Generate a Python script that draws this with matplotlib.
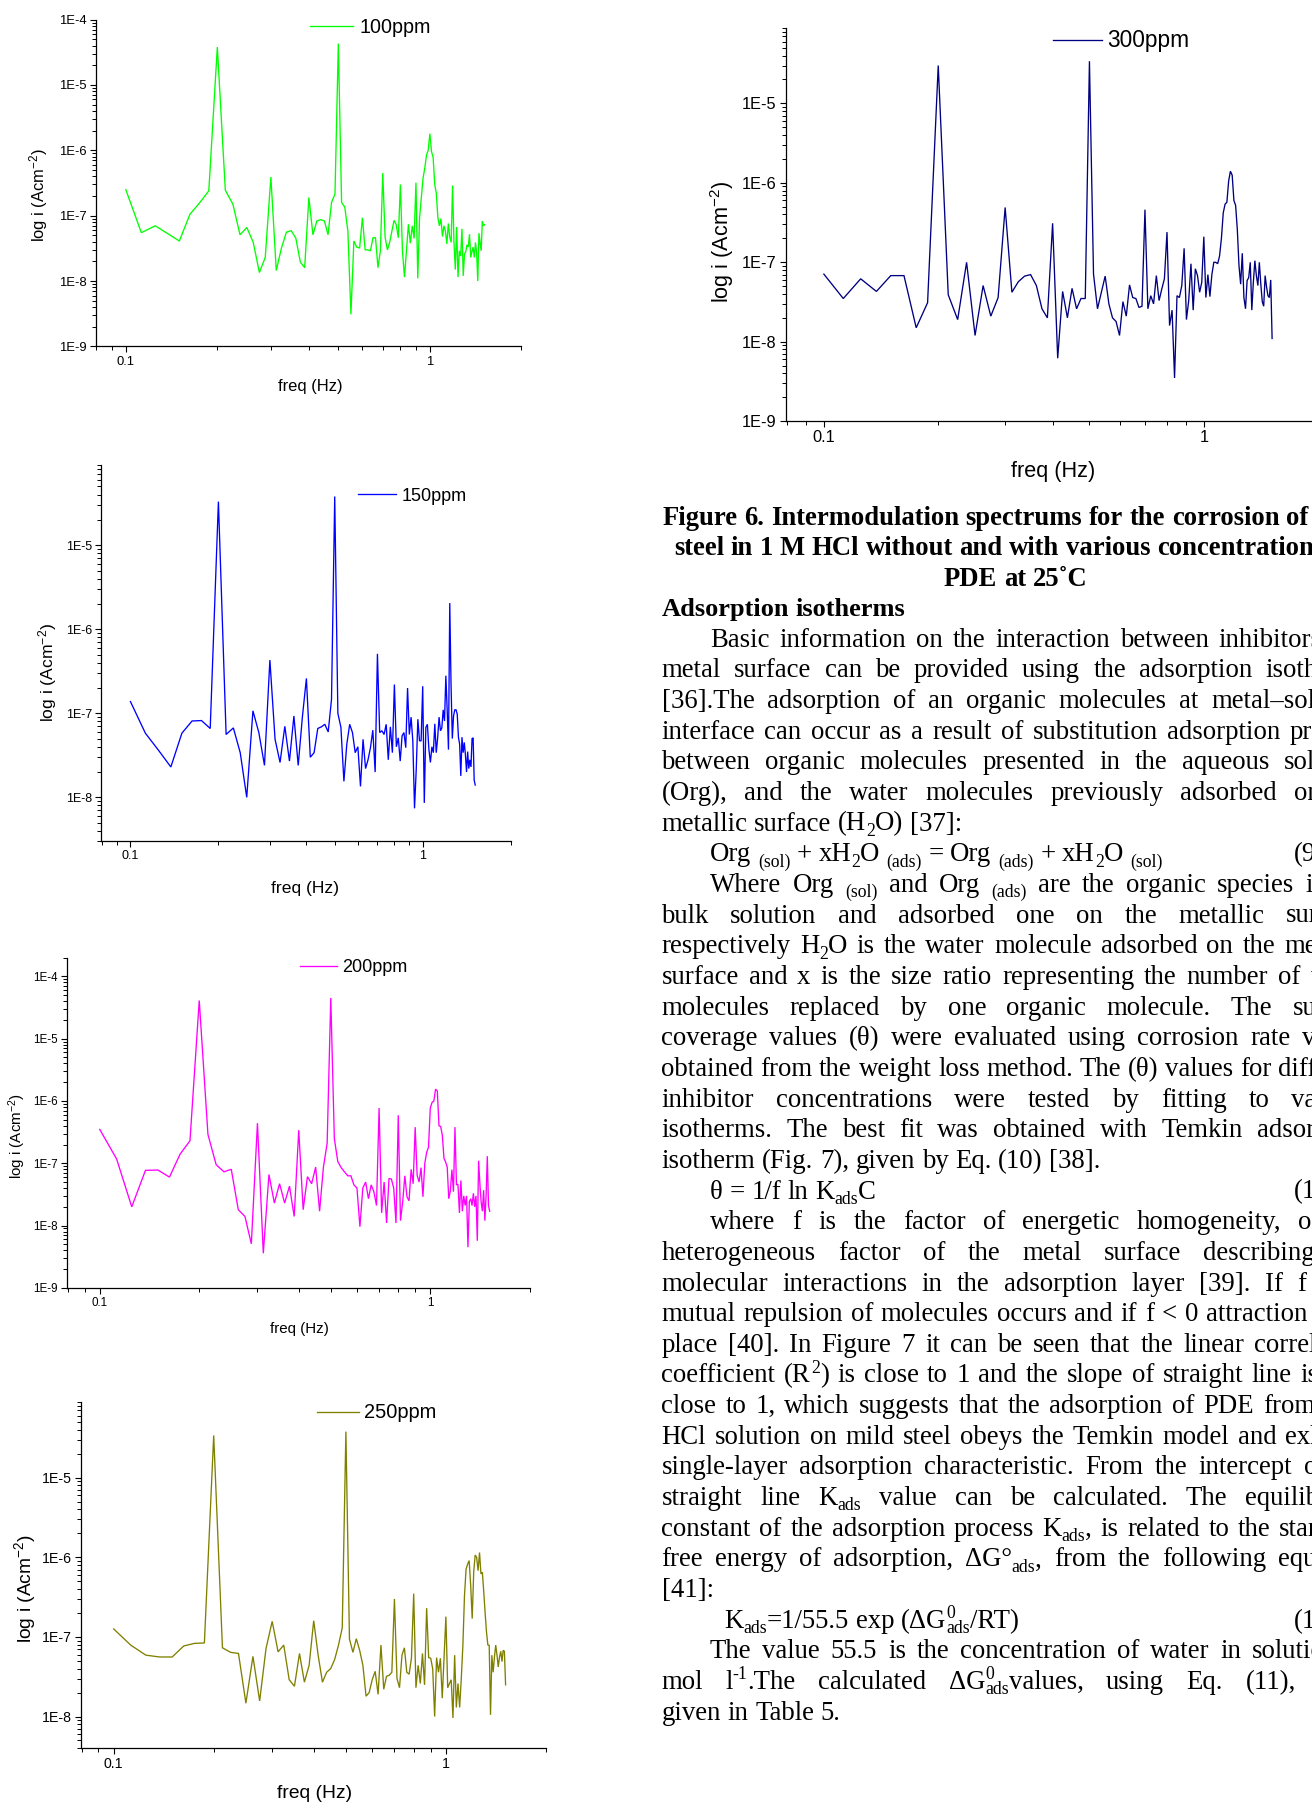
import re
import numpy as np
import matplotlib
matplotlib.use("Agg")
import matplotlib.pyplot as plt
from matplotlib.font_manager import FontProperties
from matplotlib.ticker import FixedLocator, LogLocator, FuncFormatter, NullFormatter

plt.rcParams["mathtext.fontset"] = "custom"
plt.rcParams["mathtext.rm"] = "Liberation Sans"
plt.rcParams["mathtext.it"] = "Liberation Sans:italic"
plt.rcParams["mathtext.bf"] = "Liberation Sans:bold"

# ---------------------------------------------------------------- data
FREQ_HZ = [
    0.1, 0.1125, 0.125, 0.1375, 0.15, 0.1625, 0.175, 0.1875,
    0.2, 0.2125, 0.225, 0.2375, 0.25, 0.2625, 0.275, 0.2875,
    0.3, 0.3125, 0.325, 0.3375, 0.35, 0.3625, 0.375, 0.3875,
    0.4, 0.4125, 0.425, 0.4375, 0.45, 0.4625, 0.475, 0.4875,
    0.5, 0.5125, 0.525, 0.5375, 0.55, 0.5625, 0.575, 0.5875,
    0.6, 0.6125, 0.625, 0.6375, 0.65, 0.6625, 0.675, 0.6875,
    0.7, 0.7125, 0.725, 0.7375, 0.75, 0.7625, 0.775, 0.7875,
    0.8, 0.8125, 0.825, 0.8375, 0.85, 0.8625, 0.875, 0.8875,
    0.9, 0.9125, 0.925, 0.9375, 0.95, 0.9625, 0.975, 0.9875,
    1.0, 1.0125, 1.025, 1.0375, 1.05, 1.0625, 1.075, 1.0875,
    1.1, 1.1125, 1.125, 1.1375, 1.15, 1.1625, 1.175, 1.1875,
    1.2, 1.2125, 1.225, 1.2375, 1.25, 1.2625, 1.275, 1.2875,
    1.3, 1.3125, 1.325, 1.3375, 1.35, 1.3625, 1.375, 1.3875,
    1.4, 1.4125, 1.425, 1.4375, 1.45, 1.4625, 1.475, 1.4875,
    1.5, 1.5125,
]

I_100PPM = [
    2.5e-7, 5.5e-8, 7.0e-8, 5.3e-8, 4.1e-8, 1.05e-7, 1.58e-7, 2.4e-7,
    3.8e-5, 2.45e-7, 1.5e-7, 5.1e-8, 6.6e-8, 3.9e-8, 1.35e-8, 2.3e-8,
    3.9e-7, 1.45e-8, 3.2e-8, 5.6e-8, 5.9e-8, 4.5e-8, 1.95e-8, 1.6e-8,
    1.9e-7, 5.1e-8, 8.3e-8, 8.7e-8, 8.3e-8, 5.1e-8, 1.6e-7, 2.15e-7,
    4.3e-5, 1.6e-7, 1.35e-7, 5.8e-8, 3.1e-9, 4.1e-8, 3.3e-8, 3.2e-8,
    9.3e-8, 3.0e-8, 3.0e-8, 2.9e-8, 4.6e-8, 4.6e-8, 1.6e-8, 2.9e-8,
    4.5e-7, 4.7e-8, 3.0e-8, 3.9e-8, 5.8e-8, 8.5e-8, 7.3e-8, 4.6e-8,
    3.0e-7, 2.9e-8, 1.15e-8, 2.9e-8, 7.4e-8, 3.8e-8, 7.0e-8, 4.5e-8,
    3.2e-7, 1.1e-8, 9.3e-8, 1.9e-7, 3.8e-7, 5.4e-7, 8.5e-7, 1.0e-6,
    1.8e-6, 9.6e-7, 7.8e-7, 3.0e-7, 2.2e-7, 9.3e-8, 7.0e-8, 9.0e-8,
    4.8e-8, 7.0e-8, 5.8e-8, 3.7e-8, 7.6e-8, 4.7e-8, 3.9e-8, 2.9e-7,
    4.0e-8, 1.5e-8, 6.7e-8, 1.15e-8, 2.9e-8, 2.4e-8, 6.3e-8, 1.2e-8,
    2.6e-8, 2.8e-8, 3.6e-8, 3.3e-8, 5.2e-8, 2.3e-8, 2.8e-8, 3.3e-8,
    2.3e-8, 3.9e-8, 2.7e-8, 1.0e-8, 5.4e-8, 3.9e-8, 2.9e-8, 8.2e-8,
    7.0e-8, 7.3e-8,
]

I_150PPM = [
    1.38e-7, 5.8e-8, 3.6e-8, 2.3e-8, 5.8e-8, 8.1e-8, 8.2e-8, 6.6e-8,
    3.3e-5, 5.6e-8, 6.7e-8, 3.4e-8, 1.0e-8, 1.07e-7, 5.9e-8, 2.4e-8,
    4.3e-7, 4.9e-8, 2.6e-8, 7.0e-8, 2.7e-8, 9.3e-8, 2.4e-8, 9.0e-8,
    2.6e-7, 3.0e-8, 3.4e-8, 6.6e-8, 6.9e-8, 7.4e-8, 6.0e-8, 1.47e-7,
    3.8e-5, 1.0e-7, 6.8e-8, 1.55e-8, 4.3e-8, 7.4e-8, 5.9e-8, 3.4e-8,
    4.0e-8, 1.35e-8, 4.9e-8, 2.2e-8, 2.8e-8, 3.9e-8, 6.3e-8, 2.0e-8,
    5.1e-7, 5.9e-8, 6.2e-8, 5.6e-8, 7.4e-8, 2.8e-8, 6.9e-8, 3.4e-8,
    2.2e-7, 4.0e-8, 5.1e-8, 2.7e-8, 5.4e-8, 5.9e-8, 3.9e-8, 2.0e-7,
    5.6e-8, 9.0e-8, 4.7e-8, 7.4e-9, 2.1e-8, 8.5e-8, 4.7e-8, 4.7e-8,
    2.1e-7, 8.6e-9, 6.8e-8, 7.4e-8, 3.7e-8, 2.6e-8, 4.0e-8, 3.4e-8,
    7.5e-8, 3.4e-8, 5.1e-8, 9.0e-8, 6.2e-8, 6.7e-8, 1.1e-7, 8.1e-8,
    2.8e-7, 1.1e-7, 3.7e-8, 2.05e-6, 2.2e-7, 5.0e-8, 9.3e-8, 1.1e-7,
    1.1e-7, 9.8e-8, 5.2e-8, 4.3e-8, 1.8e-8, 5.2e-8, 3.4e-8, 4.5e-8,
    3.2e-8, 2.0e-8, 3.5e-8, 2.2e-8, 2.8e-8, 2.3e-8, 5.0e-8, 5.1e-8,
    1.6e-8, 1.4e-8,
]

I_200PPM = [
    3.5e-7, 1.17e-7, 2.0e-8, 7.7e-8, 7.8e-8, 6.0e-8, 1.4e-7, 2.3e-7,
    4.1e-5, 2.9e-7, 9.5e-8, 7.3e-8, 8.0e-8, 1.8e-8, 1.4e-8, 5.1e-9,
    4.4e-7, 3.6e-9, 6.6e-8, 2.3e-8, 4.7e-8, 2.3e-8, 4.3e-8, 1.4e-8,
    3.4e-7, 1.8e-8, 6.1e-8, 4.7e-8, 8.7e-8, 1.7e-8, 8.7e-8, 2.1e-7,
    4.5e-5, 2.5e-7, 1.07e-7, 8.5e-8, 7.3e-8, 6.3e-8, 6.3e-8, 4.5e-8,
    4.0e-8, 9.6e-9, 4.0e-8, 5.0e-8, 2.7e-8, 4.5e-8, 3.5e-8, 2.1e-8,
    7.7e-7, 1.6e-8, 5.0e-8, 1.1e-8, 5.7e-8, 5.6e-8, 4.0e-8, 1.1e-8,
    5.9e-7, 1.2e-8, 2.4e-8, 6.3e-8, 2.9e-8, 2.5e-8, 8.0e-8, 4.7e-8,
    3.8e-7, 6.4e-8, 5.0e-8, 8.5e-8, 2.9e-8, 1.0e-7, 1.5e-7, 1.8e-7,
    7.7e-7, 9.5e-7, 1.0e-6, 1.55e-6, 1.45e-6, 4.0e-7, 3.9e-7, 2.8e-7,
    1.2e-7, 1.05e-7, 8.7e-8, 2.7e-8, 3.6e-8, 7.9e-8, 3.5e-8, 3.8e-7,
    4.5e-8, 4.6e-8, 1.6e-8, 5.3e-8, 1.7e-8, 3.0e-8, 2.1e-8, 3.0e-8,
    4.5e-9, 2.4e-8, 2.7e-8, 2.1e-8, 3.3e-8, 2.0e-8, 3.0e-8, 5.7e-9,
    1.1e-7, 4.7e-8, 2.4e-8, 1.7e-8, 3.7e-8, 1.2e-8, 3.0e-8, 1.3e-7,
    2.1e-8, 1.7e-8,
]

I_250PPM = [
    1.26e-7, 7.9e-8, 5.9e-8, 5.6e-8, 5.6e-8, 7.7e-8, 8.3e-8, 8.4e-8,
    3.4e-5, 7.3e-8, 6.4e-8, 6.2e-8, 1.47e-8, 5.7e-8, 1.57e-8, 7.2e-8,
    1.57e-7, 6.5e-8, 7.9e-8, 2.9e-8, 2.4e-8, 6.2e-8, 2.7e-8, 4.4e-8,
    1.6e-7, 5.9e-8, 2.7e-8, 3.6e-8, 4.0e-8, 5.2e-8, 7.9e-8, 1.3e-7,
    3.8e-5, 9.4e-8, 6.4e-8, 9.5e-8, 6.8e-8, 4.4e-8, 1.8e-8, 2.0e-8,
    2.9e-8, 3.7e-8, 1.9e-8, 7.9e-8, 2.2e-8, 3.2e-8, 3.3e-8, 3.6e-8,
    3.0e-7, 3.0e-8, 2.3e-8, 5.9e-8, 7.3e-8, 3.6e-8, 3.4e-8, 5.4e-8,
    3.5e-7, 2.3e-8, 4.4e-8, 2.6e-8, 6.2e-8, 2.5e-8, 2.3e-7, 5.5e-8,
    5.4e-8, 4.0e-8, 1.0e-8, 5.5e-8, 3.6e-8, 5.4e-8, 1.7e-8, 5.6e-8,
    1.8e-7, 2.3e-8, 2.6e-8, 2.9e-8, 9.6e-9, 5.9e-8, 1.3e-8, 2.6e-8,
    1.3e-8, 3.0e-8, 7.9e-8, 3.3e-7, 7.1e-7, 8.2e-7, 9.1e-7, 4.4e-7,
    1.7e-7, 6.5e-7, 1.07e-6, 1.0e-6, 6.8e-7, 1.15e-6, 6.2e-7, 6.5e-7,
    3.7e-7, 2.0e-7, 1.15e-7, 7.9e-8, 7.9e-8, 1.05e-8, 5.9e-8, 3.6e-8,
    5.6e-8, 7.9e-8, 5.9e-8, 4.2e-8, 5.6e-8, 6.6e-8, 4.9e-8, 6.8e-8,
    6.6e-8, 2.5e-8,
]

I_300PPM = [
    7.1e-8, 3.5e-8, 6.2e-8, 4.3e-8, 6.8e-8, 6.8e-8, 1.5e-8, 3.1e-8,
    3.0e-5, 3.9e-8, 1.9e-8, 1.0e-7, 1.2e-8, 5.1e-8, 2.1e-8, 3.6e-8,
    4.9e-7, 4.2e-8, 5.7e-8, 6.7e-8, 7.0e-8, 5.1e-8, 2.6e-8, 2.0e-8,
    3.1e-7, 6.2e-9, 4.3e-8, 2.0e-8, 4.7e-8, 2.6e-8, 3.5e-8, 3.5e-8,
    3.4e-5, 7.1e-8, 2.6e-8, 4.2e-8, 6.7e-8, 3.0e-8, 2.0e-8, 1.8e-8,
    1.2e-8, 3.2e-8, 2.1e-8, 5.2e-8, 3.6e-8, 3.5e-8, 2.7e-8, 2.8e-8,
    4.6e-7, 2.6e-8, 3.8e-8, 3.0e-8, 6.8e-8, 3.3e-8, 4.6e-8, 6.2e-8,
    2.4e-7, 1.6e-8, 2.5e-8, 3.5e-9, 3.8e-8, 3.6e-8, 5.1e-8, 1.5e-7,
    1.9e-8, 3.3e-8, 9.6e-8, 2.5e-8, 8.3e-8, 6.8e-8, 4.2e-8, 5.6e-8,
    2.1e-7, 3.6e-8, 7.0e-8, 3.7e-8, 7.0e-8, 1.0e-7, 1.0e-7, 9.6e-8,
    1.2e-7, 2.0e-7, 4.2e-7, 5.4e-7, 5.7e-7, 1.06e-6, 1.4e-6, 1.25e-6,
    6.0e-7, 5.2e-7, 2.6e-7, 9.1e-8, 5.3e-8, 1.3e-7, 3.6e-8, 2.6e-8,
    5.9e-8, 6.4e-8, 1.0e-7, 2.5e-8, 5.6e-8, 1.05e-7, 6.8e-8, 5.1e-8,
    1.0e-7, 5.3e-8, 3.2e-8, 2.8e-8, 6.8e-8, 4.9e-8, 3.8e-8, 3.6e-8,
    6.0e-8, 1.1e-8,
]

SERIES_LABELS = ["100ppm", "150ppm", "200ppm", "250ppm", "300ppm"]
SERIES_COLORS = ["#00ff00", "#0000ff", "#ff00ff", "#808000", "#000080"]
X_TICKS = [0.1, 1]
X_TICK_LABELS = ["0.1", "1"]
X_LABEL = "freq (Hz)"
Y_LABEL = "log i (Acm$^{-2}$)"

# ---------------------------------------------------------------- page text
CAPTION = [
    "Figure 6. Intermodulation spectrums for the corrosion of mild",
    "steel in 1 M HCl without and with various concentrations of",
    "PDE at 25\u02daC",
]
HEADING = "Adsorption isotherms"
# kind: p = indented + justified, j = justified, l = left (paragraph end), eq = equation
BODY = [
    ("Basic information on the interaction between inhibitors and", "p"),
    ("metal surface can be provided using the adsorption isotherms", "j"),
    ("[36].The adsorption of an organic molecules at metal\u2013solution", "j"),
    ("interface can occur as a result of substitution adsorption process", "j"),
    ("between organic molecules presented in the aqueous solution", "j"),
    ("(Org), and the water molecules previously adsorbed on the", "j"),
    ("metallic surface (H_{2}O) [37]:", "l"),
    ("Org _{(sol)} + xH_{2}O _{(ads)} = Org _{(ads)} + xH_{2}O _{(sol)}", "eq", "(9)"),
    ("Where Org _{(sol)} and Org _{(ads)} are the organic species in the", "p"),
    ("bulk solution and adsorbed one on the metallic surface,", "j"),
    ("respectively H_{2}O is the water molecule adsorbed on the metallic", "j"),
    ("surface and x is the size ratio representing the number of water", "j"),
    ("molecules replaced by one organic molecule. The surface", "j"),
    ("coverage values (\u03b8) were evaluated using corrosion rate values", "j"),
    ("obtained from the weight loss method. The (\u03b8) values for different", "j"),
    ("inhibitor concentrations were tested by fitting to various", "j"),
    ("isotherms. The best fit was obtained with Temkin adsorption", "j"),
    ("isotherm (Fig. 7), given by Eq. (10) [38].", "l"),
    ("\u03b8 = 1/f ln K_{ads}C", "eq", "(10)"),
    ("where f is the factor of energetic homogeneity, or the", "p"),
    ("heterogeneous factor of the metal surface describing the", "j"),
    ("molecular interactions in the adsorption layer [39]. If f > 0,", "j"),
    ("mutual repulsion of molecules occurs and if f < 0 attraction takes", "j"),
    ("place [40]. In Figure 7 it can be seen that the linear correlation", "j"),
    ("coefficient (R^{2}) is close to 1 and the slope of straight line is also", "j"),
    ("close to 1, which suggests that the adsorption of PDE from 1 M", "j"),
    ("HCl solution on mild steel obeys the Temkin model and exhibits", "j"),
    ("single-layer adsorption characteristic. From the intercept of the", "j"),
    ("straight line K_{ads} value can be calculated. The equilibrium", "j"),
    ("constant of the adsorption process K_{ads}, is related to the standard", "j"),
    ("free energy of adsorption, \u0394G\u00b0_{ads}, from the following equation", "j"),
    ("[41]:", "l"),
    ("K_{ads}=1/55.5 exp (\u0394G^{0}_{ads}/RT)", "eq2", "(11)"),
    ("The value 55.5 is the concentration of water in solution in", "p"),
    ("mol l^{-1}.The calculated \u0394G^{0}_{ads}values, using Eq. (11), were", "j"),
    ("given in Table 5.", "l"),
]

# ---------------------------------------------------------------- figure
W, H, DPI = 1312, 1805, 100
fig = plt.figure(figsize=(W / DPI, H / DPI), dpi=DPI)
fig.patch.set_facecolor("white")
renderer = fig.canvas.get_renderer()

SANS = "Liberation Sans"
SERIF = "Liberation Serif"


def fx(x):
    return x / W


def fy(y):
    return 1 - y / H


# panel geometry in page pixels: (left, top, right, bottom)
PANELS = [
    dict(vals=I_100PPM, box=(95.5, 19.6, 521.4, 346.4), ylim=(1e-9, 1e-4),
         tick=9.4, lab=11.9, leg=14.2, ylab=(39, 195), xlab=(310, 387),
         legxy=(309.7, 27.2), leglen=43, leggap=7),
    dict(vals=I_150PPM, box=(101.3, 465.0, 510.7, 841.3), ylim=(3e-9, 9e-5),
         tick=9.0, lab=12.6, leg=13.0, ylab=(48, 672), xlab=(305, 888),
         legxy=(358.2, 496.2), leglen=38, leggap=5),
    dict(vals=I_200PPM, box=(66.8, 957.6, 529.8, 1287.9), ylim=(1e-9, 2e-4),
         tick=8.4, lab=10.9, leg=13.0, ylab=(17.5, 1136), xlab=(299, 1329),
         legxy=(299.7, 967.8), leglen=37, leggap=5),
    dict(vals=I_250PPM, box=(80.6, 1401.8, 545.9, 1748.2), ylim=(4e-9, 9e-5),
         tick=10.2, lab=13.9, leg=14.4, ylab=(25, 1589), xlab=(315, 1793),
         legxy=(317.3, 1413.0), leglen=42, leggap=5),
    dict(vals=I_300PPM, box=(786.0, 27.6, 1318.2, 421.2), ylim=(1e-9, 9e-5),
         tick=11.8, lab=15.6, leg=16.4, ylab=(722, 242), xlab=(1053, 471),
         legxy=(1052.6, 41.0), leglen=49, leggap=6),
]

sci_fmt = FuncFormatter(lambda v, p: "1E%d" % int(round(np.log10(v))))

for cfg, label, color in zip(PANELS, SERIES_LABELS, SERIES_COLORS):
    l, t, r, b = cfg["box"]
    ax = fig.add_axes([fx(l), fy(b), (r - l) / W, (b - t) / H])
    vals = cfg["vals"]
    ax.plot(FREQ_HZ[:len(vals)], vals, color=color, lw=0.95, label=label,
            solid_joinstyle="miter")
    ax.set_xscale("log")
    ax.set_yscale("log")
    ax.set_xlim(0.0795, 2.0)
    ax.set_ylim(*cfg["ylim"])
    ax.set_facecolor("none")
    for s in ("top", "right"):
        ax.spines[s].set_visible(False)
    for s in ("left", "bottom"):
        ax.spines[s].set_linewidth(0.9)
    ax.xaxis.set_major_locator(FixedLocator(X_TICKS))
    ax.xaxis.set_major_formatter(
        FuncFormatter(lambda v, p: X_TICK_LABELS[X_TICKS.index(v)] if v in X_TICKS else ""))
    ax.xaxis.set_minor_locator(LogLocator(base=10, subs=np.arange(2, 10) * 1.0, numticks=30))
    ax.xaxis.set_minor_formatter(NullFormatter())
    ax.yaxis.set_major_locator(LogLocator(base=10, numticks=30))
    ax.yaxis.set_major_formatter(sci_fmt)
    ax.yaxis.set_minor_locator(LogLocator(base=10, subs=np.arange(2, 10) * 1.0, numticks=30))
    ax.yaxis.set_minor_formatter(NullFormatter())
    ax.tick_params(which="major", direction="out", length=4.6, width=0.8, pad=2,
                   labelsize=cfg["tick"])
    ax.tick_params(which="minor", direction="out", length=2.6, width=0.7)
    for lbl in ax.get_xticklabels() + ax.get_yticklabels():
        lbl.set_family(SANS)

    fig.text(fx(cfg["ylab"][0]), fy(cfg["ylab"][1]), Y_LABEL, rotation=90,
             ha="center", va="center", family=SANS, fontsize=cfg["lab"])
    fig.text(fx(cfg["xlab"][0]), fy(cfg["xlab"][1]), X_LABEL,
             ha="center", va="center", family=SANS, fontsize=cfg["lab"])

    em = cfg["leg"] * DPI / 72
    ax.legend(loc="center left", bbox_to_anchor=(fx(cfg["legxy"][0]), fy(cfg["legxy"][1])),
              bbox_transform=fig.transFigure, frameon=False, borderpad=0,
              borderaxespad=0, handlelength=cfg["leglen"] / em,
              handletextpad=cfg["leggap"] / em,
              prop=FontProperties(family=SANS, size=cfg["leg"]))

# ---------------------------------------------------------------- text column
BODY_PT = 19.3
CAPTION_PT = 19.2
HEADING_PT = 19.0
MARK = re.compile(r"(_\{[^}]*\}|\^\{[^}]*\})")


def parse(word):
    segs = []
    for part in MARK.split(word):
        if not part:
            continue
        if part.startswith("_{"):
            segs.append((part[2:-1], "sub"))
        elif part.startswith("^{"):
            segs.append((part[2:-1], "sup"))
        else:
            segs.append((part, "n"))
    return segs


def fprop(kind, size, weight):
    return FontProperties(family=SERIF, size=size * (0.66 if kind != "n" else 1.0),
                          weight=weight)


def text_w(s, fp):
    return renderer.get_text_width_height_descent(s, fp, ismath=False)[0]


def layout_word(word, size, weight):
    items, x, prev, sup_x, sup_w = [], 0.0, None, 0.0, 0.0
    for s, kind in parse(word):
        fp = fprop(kind, size, weight)
        w = text_w(s, fp)
        if kind == "sub" and prev == "sup":
            items.append((s, kind, sup_x, fp))
            x = sup_x + max(w, sup_w)
        else:
            items.append((s, kind, x, fp))
            if kind == "sup":
                sup_x, sup_w = x, w
            x += w
        prev = kind
    return items, x


def draw_line(text, x0, yc, size=BODY_PT, weight="normal", right=None):
    words = text.split(" ")
    laid = [layout_word(w, size, weight) for w in words]
    total = sum(w for _, w in laid)
    em = size * DPI / 72
    gap = 0.25 * em
    if right is not None and len(words) > 1:
        gap = (right - x0 - total) / (len(words) - 1)
    base = yc + 0.30 * em
    x = x0
    for items, wd in laid:
        for s, kind, dx, fp in items:
            dy = 0.0
            if kind == "sub":
                dy = 0.20 * em
            elif kind == "sup":
                dy = -0.36 * em
            fig.text(fx(x + dx), fy(base + dy), s, fontproperties=fp,
                     ha="left", va="baseline", color="black")
        x += wd + gap


LEFT, INDENT, RIGHT = 661.5, 710.0, 1370.0
EQ_NUM_X = 1294.0

for txt, x0, yc in zip(CAPTION, [662.5, 674.0, 944.0], [516.7, 546.9, 577.6]):
    draw_line(txt, x0, yc, size=CAPTION_PT, weight="bold")
draw_line(HEADING, LEFT, 608.0, size=HEADING_PT, weight="bold")

for i, entry in enumerate(BODY):
    txt, kind = entry[0], entry[1]
    yc = 638.6 + 30.66 * i
    if kind == "p":
        draw_line(txt, INDENT, yc, right=RIGHT)
    elif kind == "j":
        draw_line(txt, LEFT, yc, right=RIGHT)
    elif kind == "l":
        draw_line(txt, LEFT, yc)
    else:
        draw_line(txt, INDENT if kind == "eq" else 724.0, yc)
        draw_line(entry[2], EQ_NUM_X, yc)

fig.savefig("out.png", dpi=DPI, facecolor="white")
